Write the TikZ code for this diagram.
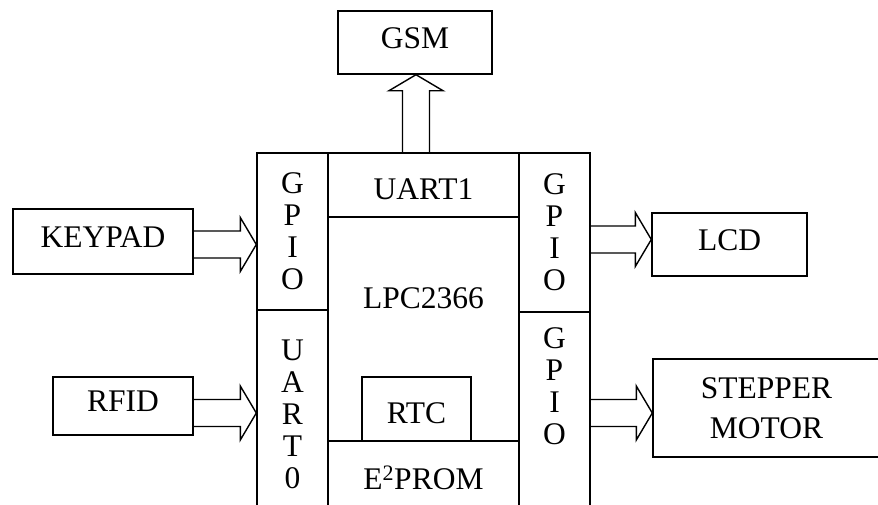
\documentclass[tikz,border=0pt]{standalone}
\usepackage{fontspec}
\setmainfont{Liberation Serif}
\usetikzlibrary{calc}

% hollow block arrow from #1 to #2
\newcommand{\fatarrow}[2]{%
  \coordinate (fb) at ($(#2)!16pt!(#1)$);
  \draw[fat] ($(#1)!13.5pt!90:(#2)$) -- ($(fb)!13.5pt!90:(#2)$) -- ($(fb)!27pt!90:(#2)$)
    -- (#2) -- ($(fb)!27pt!-90:(#2)$) -- ($(fb)!13.5pt!-90:(#2)$) -- ($(#1)!13.5pt!-90:(#2)$);}

\begin{document}
\begin{tikzpicture}[x=1pt, y=-1pt,
    txt/.style={align=center, inner sep=0pt, font=\fontsize{31.5}{32}\selectfont},
    block/.style={txt, draw, line width=1.4pt},
    high/.style={text height=21pt, text depth=10pt},
    low/.style={text height=29pt, text depth=0pt},
    port/.style={block, minimum width=71pt},
    fat/.style={line width=1.4pt, line join=miter}
]
\useasboundingbox (0,0) rectangle (878,504);
\clip (0,0) rectangle (878,504);

% outside blocks
\node[block, high, minimum width=154pt, minimum height=63pt] (gsm) at (415,42.5) {GSM};
\node[block, high, minimum width=180pt, minimum height=65pt] (keypad) at (103,241.5) {KEYPAD};
\node[block, high, minimum width=140pt, minimum height=58pt] (rfid) at (123,406) {RFID};
\node[block, high, minimum width=155pt, minimum height=63pt] (lcd) at (729.5,244.5) {LCD};
\node[block, minimum width=227pt, minimum height=98pt, font=\fontsize{31.5}{40}\selectfont] (motor) at (766.5,408) {STEPPER\\MOTOR};

% controller
\node[port, minimum height=157pt] (gpiol) at (292.5,231.5) {G\\P\\I\\O};
\node[port, minimum height=208pt] (uart0) at (292.5,414) {U\\A\\R\\T\\0};
\node[block, low, minimum width=191pt, minimum height=64pt] (uart1) at (423.5,185) {UART1};
\node[txt] (lpc) at (423.5,298) {LPC2366};
\node[block, low, minimum width=109pt, minimum height=64pt] (rtc) at (416.5,409) {RTC};
\node[block, minimum width=191pt, minimum height=74pt] (eprom) at (423.5,478) {E\textsuperscript{2}PROM};
\node[port, minimum height=159pt] (gpior) at (554.5,232.5) {G\\P\\I\\O};
\node[port, minimum height=208pt, label={[txt, yshift=30pt]center:{G\\P\\I\\O}}] (gpiom) at (554.5,416) {};

% links
\coordinate (kp) at ([yshift=-3pt]keypad.east);
\coordinate (rf) at ([yshift=-7pt]rfid.east);
\coordinate (lc) at ([yshift=5pt]lcd.west);
\coordinate (mt) at ([yshift=-5pt]motor.west);
\coordinate (gs) at ([xshift=1pt]gsm.south);
\fatarrow{kp}{kp -| gpiol.west}
\fatarrow{rf}{rf -| uart0.west}
\fatarrow{lc -| gpior.east}{lc}
\fatarrow{mt -| gpiom.east}{mt}
\fatarrow{gs |- uart1.north}{gs}
\end{tikzpicture}
\end{document}
